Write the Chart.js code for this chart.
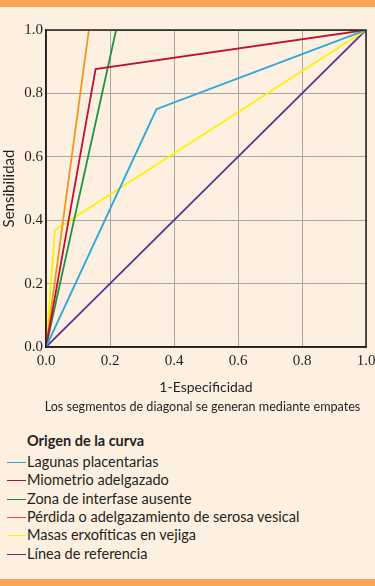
<!DOCTYPE html>
<html>
<head>
<meta charset="utf-8">
<script src="https://cdn.jsdelivr.net/npm/chart.js@4/dist/chart.umd.min.js"></script>
<style>
  html, body { margin: 0; padding: 0; }
  body { width: 375px; height: 586px; background: #fdf0e0; position: relative; overflow: hidden; font-family: Lato, sans-serif; color: #231f20; }
  .bar { position: absolute; left: 0; width: 375px; background: #f7a658; }
  #wrap { position: absolute; left: 0; top: 7px; width: 375px; height: 393px; }
  #note { position: absolute; left: 0; width: 375px; top: 399px; text-align: center; font-size: 12.6px; padding-left: 30px; box-sizing: border-box; }
  #title { position: absolute; left: 27px; top: 431px; font-size: 14.5px; font-weight: bold; line-height: 20px; }
  .item { position: absolute; left: 0; height: 18px; line-height: 18px; font-size: 14.5px; padding-left: 27px; white-space: nowrap; }
  .item span { position: absolute; left: 7px; top: 9px; width: 19px; height: 1px; }
</style>
</head>
<body>
<div class="bar" style="top:0;height:7px"></div>
<div id="wrap"><canvas id="c"></canvas></div>
<div id="note">Los segmentos de diagonal se generan mediante empates</div>
<div id="title">Origen de la curva</div>
<div id="legend"></div>
<div class="bar" style="top:579px;height:7px"></div>
<script>
  // ROC curves, x = 1-especificidad, y = sensibilidad
  const names = ['Lagunas placentarias', 'Miometrio adelgazado', 'Zona de interfase ausente',
    'Pérdida o adelgazamiento de serosa vesical', 'Masas erxofíticas en vejiga', 'Línea de referencia'];
  const colors = ['#2aa6df', '#c1102f', '#1c9445', '#f7941d', '#fff200', '#662d91'];
  const legendColors = ['#3a9fd6', '#a3182c', '#1f8a3c', '#f04e23', '#fff200', '#662d91'];

  const lagunasX = [0, 0.345, 1];
  const lagunasY = [0, 0.75, 1];
  const miometrioX = [0, 0.155, 1];
  const miometrioY = [0, 0.877, 1];
  const zonaX = [0, 0.219, 1];
  const zonaY = [0, 1, 1];
  const perdidaX = [0, 0.134, 1];
  const perdidaY = [0, 1, 1];
  const masasX = [0, 0.028, 1];
  const masasY = [0, 0.369, 1];
  const refX = [0, 1];
  const refY = [0, 1];

  const seriesX = [lagunasX, miometrioX, zonaX, perdidaX, masasX, refX];
  const seriesY = [lagunasY, miometrioY, zonaY, perdidaY, masasY, refY];

  function pts(xs, ys) {
    return xs.map((x, i) => ({ x: x, y: ys[i] }));
  }

  const datasets = names.map((n, i) => ({
    label: n,
    data: pts(seriesX[i], seriesY[i]),
    borderColor: colors[i],
    borderWidth: 1.8,
    showLine: true,
    pointRadius: 0,
    fill: false
  }));

  const legend = document.getElementById('legend');
  names.forEach((n, i) => {
    const d = document.createElement('div');
    d.className = 'item';
    d.style.top = Math.round(453 + i * 18.3) + 'px';
    d.innerHTML = '<span style="background:' + legendColors[i] + '"></span>' + n;
    legend.appendChild(d);
  });

  // black frame drawn over the curves, like the original
  const frame = {
    id: 'frame',
    afterDatasetsDraw(chart) {
      const a = chart.chartArea, ctx = chart.ctx;
      ctx.save();
      ctx.strokeStyle = '#231f20';
      ctx.lineWidth = 1.5;
      ctx.strokeRect(a.left, a.top, a.right - a.left, a.bottom - a.top);
      ctx.restore();
    }
  };

  const tickFont = { family: 'Liberation Serif', size: 15 };
  const titleFont = { family: 'Lato', size: 14 };

  new Chart(document.getElementById('c'), {
    type: 'scatter',
    data: { datasets: datasets },
    options: {
      responsive: true,
      maintainAspectRatio: false,
      animation: false,
      layout: { padding: { top: 23, right: 9, left: 0, bottom: 0 } },
      plugins: { legend: { display: false }, tooltip: { enabled: false } },
      scales: {
        x: {
          min: 0, max: 1,
          ticks: { stepSize: 0.2, color: '#231f20', font: tickFont, padding: 5, maxRotation: 0,
            callback: v => v.toFixed(1) },
          grid: { color: '#a6a6a6', drawTicks: false },
          border: { color: '#231f20', width: 1.5 },
          title: { display: true, text: '1-Especificidad', color: '#231f20', font: titleFont, padding: { top: 2 } },
          afterFit: s => { s.height = 53; s.paddingLeft = 0; s.paddingRight = 0; }
        },
        y: {
          min: 0, max: 1,
          ticks: { stepSize: 0.2, color: '#231f20', font: tickFont, padding: 3,
            callback: v => v.toFixed(1) },
          grid: { color: '#a6a6a6', drawTicks: false },
          border: { color: '#231f20', width: 1.5 },
          title: { display: true, text: 'Sensibilidad', color: '#231f20', font: { family: 'Lato', size: 15 }, padding: 0 },
          afterFit: s => { s.width = 46; s.paddingTop = 0; s.paddingBottom = 0; }
        }
      }
    },
    plugins: [frame]
  });
</script>
</body>
</html>
